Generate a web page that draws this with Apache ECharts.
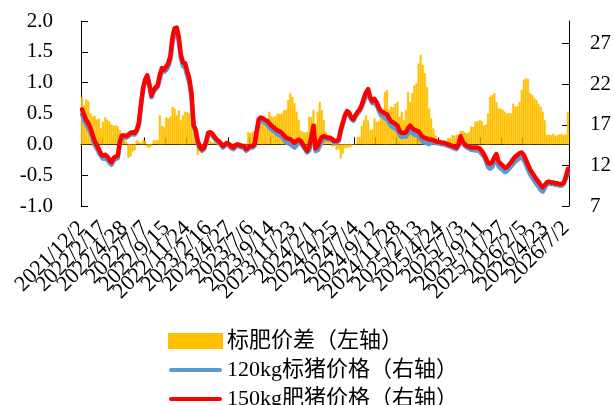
<!DOCTYPE html>
<html>
<head>
<meta charset="utf-8">
<script src="https://cdn.jsdelivr.net/npm/echarts@6/dist/echarts.min.js"></script>
<style>
html,body{margin:0;padding:0;background:#fff;}
#chart{width:614px;height:405px;}
</style>
</head>
<body>
<div id="chart"></div>
<script>
// Tick labels shown on the x axis (one every 10 weeks)
const tickLabels = ['2021/12/2','2022/2/17','2022/4/28','2022/7/7','2022/9/15','2022/11/24','2023/2/16','2023/4/27','2023/7/6','2023/9/14','2023/11/23','2024/2/1','2024/4/25','2024/7/4','2024/9/12','2024/11/28','2025/2/13','2025/4/24','2025/7/3','2025/9/11','2025/11/27','2026/2/5','2026/4/23','2026/7/2'];

// 标肥价差（左轴）
const spreadValues = [0.77,0.64,0.73,0.70,0.50,0.45,0.46,0.40,0.42,0.26,
0.37,0.44,0.40,0.37,0.32,0.30,0.31,0.29,0.23,0.12,
0.08,0.05,-0.22,-0.20,-0.12,-0.10,0.07,0.05,0.03,0.07,
0.06,-0.04,-0.06,-0.03,0.07,0.06,0.07,0.47,0.30,0.28,
0.44,0.42,0.45,0.61,0.58,0.47,0.55,0.39,0.47,0.53,
0.52,0.50,0.39,0.20,0.18,-0.17,-0.05,0.00,0.01,0.02,
0.07,0.06,0.03,0.03,0.01,0.00,0.01,0.00,0.01,-0.03,
-0.02,0.01,0.02,0.00,0.01,0.02,0.01,0.01,0.00,0.20,
0.18,0.20,0.21,0.23,0.38,0.40,0.38,0.39,0.40,0.53,
0.45,0.44,0.46,0.50,0.49,0.50,0.55,0.56,0.72,0.83,
0.77,0.67,0.53,0.40,0.22,0.20,0.19,0.20,0.45,0.44,
0.56,0.34,0.53,0.69,0.56,0.39,0.20,0.16,0.12,-0.04,
-0.03,-0.09,-0.08,-0.23,-0.15,-0.06,-0.06,-0.05,-0.04,0.00,
0.01,0.12,0.12,0.30,0.39,0.47,0.39,0.23,0.24,0.42,
0.36,0.37,0.47,0.46,0.85,0.88,0.56,0.61,0.60,0.66,
0.69,0.45,0.53,0.39,0.56,0.85,0.69,0.83,0.96,0.99,
1.31,1.45,1.29,1.15,0.93,0.58,0.42,0.26,0.15,0.07,
0.07,0.05,0.05,0.06,0.10,0.10,0.15,0.14,0.15,0.16,
0.22,0.22,0.19,0.18,0.20,0.29,0.28,0.37,0.37,0.39,
0.38,0.31,0.32,0.50,0.77,0.80,0.83,0.69,0.58,0.58,
0.56,0.53,0.50,0.51,0.50,0.66,0.61,0.62,0.69,0.88,
1.05,1.07,1.06,0.83,0.80,0.75,0.72,0.66,0.61,0.53,
0.39,0.15,0.16,0.15,0.17,0.14,0.15,0.16,0.17,0.15,
0.16,0.53];

// 120kg标猪价格（右轴）
const pig120Values = [18.3,17.6,17.0,16.6,16.1,15.35,14.54,14.1,13.58,13.14,
12.83,12.86,12.7,12.33,12.08,12.6,12.79,12.91,14.77,15.5,
15.5,15.4,15.6,15.8,15.9,15.8,16.2,17.0,19.3,21.3,
22.4,22.9,21.8,20.4,21.1,21.4,21.7,22.73,23.7,23.52,
23.76,24.18,25.05,27.2,28.32,28.53,27.25,25.21,24.23,24.07,
23.08,22.2,20.61,16.8,16.2,14.8,14.1,13.8,14.0,14.8,
15.8,15.9,15.7,15.3,15.0,14.8,14.5,14.2,14.4,14.6,
14.4,14.1,14.0,14.3,14.4,14.3,14.2,14.2,13.8,14.0,
14.2,14.2,14.39,15.97,17.32,17.5,17.42,17.21,17.1,16.67,
16.45,16.26,16.04,15.8,15.71,15.5,15.15,14.84,14.7,14.6,
14.4,14.2,14.47,14.8,14.78,14.4,14.0,13.6,13.85,15.06,
16.34,13.76,13.87,14.4,14.94,15.21,15.3,15.2,15.2,15.0,
14.8,14.8,15.0,16.2,17.1,18.0,18.5,18.3,17.7,17.5,
18.0,18.4,18.7,19.2,19.91,20.53,21.01,20.17,19.66,19.78,
19.44,18.83,18.23,18.14,17.8,17.7,17.24,16.8,16.7,16.5,
16.3,15.75,15.47,15.61,15.54,16.0,16.3,16.0,15.8,15.7,
15.6,15.2,14.9,14.8,14.7,14.62,14.78,14.84,14.8,14.7,
14.7,14.6,14.6,14.5,14.4,14.3,14.2,14.1,14.0,14.4,
15.38,14.68,14.4,14.2,14.1,13.91,13.92,13.83,13.83,13.71,
13.42,13.09,12.58,11.8,11.6,11.8,12.4,12.8,11.92,11.62,
11.44,11.17,11.3,11.59,11.9,12.2,12.5,12.7,12.9,13.0,
12.7,12.1,11.5,10.9,10.5,10.1,9.7,9.4,9.0,8.77,
9.21,9.7,9.8,9.7,9.7,9.6,9.6,9.5,9.5,9.7,
10.4,11.07];

// 150kg肥猪价格（右轴）
const pig150Values = [18.9,18.2,17.6,17.2,16.6,15.8,15.0,14.5,14.0,13.4,
13.2,13.3,13.1,12.7,12.4,12.9,13.1,13.2,15.0,15.7,
15.7,15.6,15.8,16.0,16.1,16.0,16.4,17.2,19.5,21.5,
22.6,23.1,22.0,20.6,21.3,21.6,21.9,23.2,24.0,23.8,
24.2,24.6,25.5,27.8,28.9,29.0,27.8,25.6,24.7,24.6,
23.6,22.7,21.0,17.0,16.4,15.0,14.3,14.0,14.2,15.0,
16.0,16.1,15.9,15.5,15.2,15.0,14.7,14.4,14.6,14.8,
14.6,14.3,14.2,14.5,14.6,14.5,14.4,14.4,14.0,14.2,
14.4,14.4,14.6,16.2,17.7,17.9,17.8,17.6,17.5,17.2,
16.9,16.7,16.5,16.3,16.2,16.0,15.7,15.4,15.3,15.2,
15.0,14.8,15.0,15.2,15.0,14.6,14.2,13.8,14.3,15.5,
16.9,14.1,14.4,15.0,15.5,15.6,15.5,15.4,15.4,15.2,
15.0,15.0,15.2,16.4,17.3,18.2,18.7,18.5,17.9,17.7,
18.2,18.6,18.9,19.5,20.3,21.0,21.4,20.4,19.9,20.2,
19.8,19.2,18.7,18.6,18.4,18.3,17.8,17.4,17.3,17.1,
16.9,16.2,16.0,16.0,16.1,16.6,16.9,16.6,16.4,16.3,
16.2,15.8,15.5,15.4,15.3,15.2,15.2,15.1,15.0,14.9,
14.9,14.8,14.8,14.7,14.6,14.5,14.4,14.3,14.2,14.6,
15.6,14.9,14.6,14.4,14.3,14.2,14.2,14.2,14.2,14.1,
13.8,13.4,12.9,12.3,12.2,12.4,13.0,13.4,12.5,12.2,
12.0,11.7,11.8,12.1,12.4,12.8,13.1,13.3,13.5,13.6,
13.3,12.7,12.1,11.5,11.1,10.7,10.3,10.0,9.6,9.3,
9.6,9.9,10.0,9.9,9.9,9.8,9.8,9.7,9.7,9.9,
10.6,11.6];

const leftTicks = [-1.0, -0.5, 0.0, 0.5, 1.0, 1.5, 2.0];
const rightTicks = [7, 12, 17, 22, 27];

const seriesNames = ['标肥价差（左轴）', '120kg标猪价格（右轴）', '150kg肥猪价格（右轴）'];

const categories = spreadValues.map((_, i) => String(i));
const fontFam = "'Liberation Serif','Times New Roman','Noto Sans CJK SC',serif";
const lineIcon = 'path://M2,0H51A2,2 0 0 1 51,4H2A2,2 0 0 1 2,0Z';

const chart = echarts.init(document.getElementById('chart'), null, {renderer: 'canvas'});
chart.setOption({
  backgroundColor: '#fff',
  animation: false,
  textStyle: {fontFamily: fontFam, color: '#000'},
  grid: {left: 81, right: 42, top: 21, bottom: 199, containLabel: false},
  legend: {
    orient: 'vertical',
    left: 163,
    top: 325,
    height: 150,
    itemWidth: 53,
    itemHeight: 14,
    itemGap: 7,
    symbolKeepAspect: true,
    textStyle: {fontFamily: fontFam, fontSize: 22, color: '#000'},
    data: [
      {name: seriesNames[0], icon: 'rect'},
      {name: seriesNames[1], icon: lineIcon},
      {name: seriesNames[2], icon: lineIcon}
    ]
  },
  xAxis: [
    {
      type: 'category',
      data: categories,
      position: 'bottom',
      boundaryGap: true,
      axisLine: {show: false, onZero: false},
      axisTick: {show: false},
      axisLabel: {
        interval: 0,
        rotate: 45,
        margin: 19,
        fontSize: 22,
        fontFamily: fontFam,
        color: '#000',
        hideOverlap: false,
        formatter: (v, idx) => (idx % 10 === 0 ? (tickLabels[idx / 10] || '') : '')
      },
      splitLine: {show: false}
    },
    {
      type: 'category',
      data: categories,
      position: 'bottom',
      boundaryGap: true,
      axisLine: {show: true, onZero: true, onZeroAxisIndex: 0, lineStyle: {color: '#000', width: 1}},
      axisTick: {show: true, inside: true, interval: 9, length: 7, lineStyle: {color: '#000'}},
      axisLabel: {show: false},
      splitLine: {show: false}
    }
  ],
  yAxis: [
    {
      type: 'value',
      min: -1,
      max: 2,
      interval: 0.5,
      position: 'left',
      axisLine: {show: true, lineStyle: {color: '#000'}},
      axisTick: {show: true, inside: true, length: 7, lineStyle: {color: '#000'}, customValues: leftTicks},
      axisLabel: {margin: 3, padding: [0, 25, 0, 0], fontSize: 21, fontFamily: fontFam, color: '#000', customValues: leftTicks, formatter: v => v.toFixed(1)},
      splitLine: {show: false}
    },
    {
      type: 'value',
      min: 7,
      max: 29.8,
      position: 'right',
      axisLine: {show: true, lineStyle: {color: '#000'}},
      axisTick: {show: true, inside: true, length: 7, lineStyle: {color: '#000'}, customValues: rightTicks},
      axisLabel: {margin: 21, fontSize: 21, fontFamily: fontFam, color: '#000', customValues: rightTicks},
      splitLine: {show: false}
    }
  ],
  series: [
    {
      name: seriesNames[0],
      type: 'bar',
      xAxisIndex: 0,
      yAxisIndex: 0,
      data: spreadValues,
      barCategoryGap: '0%',
      itemStyle: {color: '#FFC000', borderColor: '#FFC000', borderWidth: 0.4},
      z: 1
    },
    {
      name: seriesNames[1],
      type: 'line',
      xAxisIndex: 0,
      yAxisIndex: 1,
      data: pig120Values,
      symbol: 'none',
      lineStyle: {color: '#5B9BD5', width: 4.5, cap: 'round', join: 'round'},
      itemStyle: {color: '#5B9BD5'},
      z: 3
    },
    {
      name: seriesNames[2],
      type: 'line',
      xAxisIndex: 0,
      yAxisIndex: 1,
      data: pig150Values,
      symbol: 'none',
      lineStyle: {color: '#FF0000', width: 4.5, cap: 'round', join: 'round'},
      itemStyle: {color: '#FF0000'},
      z: 4
    }
  ]
});
</script>
</body>
</html>
